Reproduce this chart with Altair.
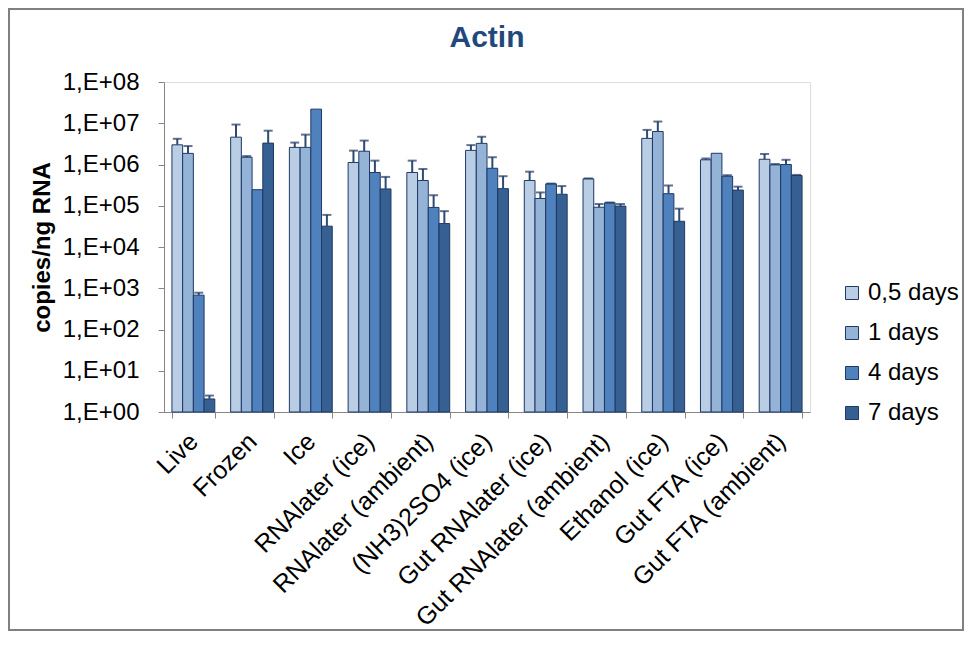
import altair as alt
import pandas as pd

categories = ["Live", "Frozen", "Ice", "RNAlater (ice)", "RNAlater (ambient)",
              "(NH3)2SO4 (ice)", "Gut RNAlater (ice)", "Gut RNAlater (ambient)",
              "Ethanol (ice)", "Gut FTA (ice)", "Gut FTA (ambient)"]
series = ["0,5 days", "1 days", "4 days", "7 days"]
colors = ["#B9CDE5", "#95B3D7", "#4F81BD", "#376092"]

mean_05 = [3.0e6, 4.6e6, 2.6e6, 1.12e6, 6.4e5, 2.2e6, 4.1e5, 4.5e5, 4.3e6, 1.3e6, 1.34e6]
top_05 = [4.2e6, 9.3e6, 3.4e6, 2.17e6, 1.24e6, 2.95e6, 6.7e5, 4.6e5, 6.9e6, 1.4e6, 1.8e6]
mean_1 = [1.86e6, 1.5e6, 2.6e6, 2.1e6, 4.1e5, 3.25e6, 1.5e5, 9.2e4, 6.3e6, 1.87e6, 9.8e5]
top_1 = [2.8e6, 1.6e6, 5.3e6, 3.8e6, 7.8e5, 4.7e6, 2.1e5, 1.1e5, 1.1e7, None, 1.03e6]
mean_4 = [680, 2.45e5, 2.2e7, 6.4e5, 9.1e4, 8.1e5, 3.4e5, 1.18e5, 1.96e5, 5.2e5, 1.0e6]
top_4 = [780, None, None, 1.24e6, 1.8e5, 1.5e6, 3.45e5, 1.2e5, 3.1e5, 5.5e5, 1.3e6]
mean_7 = [2.07, 3.3e6, 3.2e4, 2.56e5, 3.7e4, 2.6e5, 1.9e5, 9.8e4, 4.2e4, 2.4e5, 5.4e5]
top_7 = [2.5, 6.6e6, 6.0e4, 5.0e5, 7.4e4, 5.2e5, 3.0e5, 1.1e5, 8.5e4, 2.9e5, 5.6e5]

y_ticks = [1, 10, 100, 1e3, 1e4, 1e5, 1e6, 1e7, 1e8]

means = [mean_05, mean_1, mean_4, mean_7]
tops = [top_05, top_1, top_4, top_7]
rows = []
for s, mv, tv in zip(series, means, tops):
    for c, m, t in zip(categories, mv, tv):
        rows.append({"category": c, "series": s, "value": m, "top": t})
df = pd.DataFrame(rows)
err_df = df.dropna(subset=["top"])

FONT = "Liberation Sans"
NAVY = "#1F3864"

x_enc = alt.X("category:N", sort=categories,
              scale=alt.Scale(paddingInner=0.27, paddingOuter=0.135),
              axis=alt.Axis(title=None, labelAngle=-45, labelAlign="right",
                            labelBaseline="middle", labelFontSize=25, labelFont=FONT,
                            labelColor="black", labelPadding=19, tickBand="extent",
                            tickSize=6, tickColor="#868686", domainColor="#868686",
                            labelLimit=400))
xo_enc = alt.XOffset("series:N", sort=series,
                     scale=alt.Scale(paddingInner=0, paddingOuter=0))
y_scale = alt.Scale(type="log", domain=[1, 1e8])

bars = alt.Chart(df).mark_bar(stroke=NAVY, strokeWidth=1).encode(
    x=x_enc,
    xOffset=xo_enc,
    y=alt.Y("value:Q", scale=y_scale,
            axis=alt.Axis(values=y_ticks, title="copies/ng RNA",
                          labelExpr="'1,E+0' + format(log(datum.value)/LN10, '.0f')",
                          labelFontSize=24, labelFont=FONT, labelColor="black",
                          labelPadding=19, tickSize=6, tickColor="#868686",
                          domainColor="#868686", grid=False,
                          titleFontSize=24, titleFont=FONT, titleFontWeight="bold",
                          titleColor="black", titlePadding=8)),
    y2=alt.datum(1),
    color=alt.Color("series:N", sort=series,
                    scale=alt.Scale(domain=series, range=colors),
                    legend=alt.Legend(title=None, orient="none", legendX=676, legendY=199,
                                      labelFontSize=24, labelFont=FONT, labelColor="black",
                                      symbolType="square", symbolSize=169,
                                      symbolStrokeColor=NAVY, symbolStrokeWidth=1,
                                      rowPadding=16, labelOffset=4)),
)

err_rule = alt.Chart(err_df).mark_rule(color="#2E4A72", strokeWidth=2).encode(
    x=alt.X("category:N", sort=categories), xOffset=xo_enc,
    y=alt.Y("value:Q", scale=y_scale), y2="top:Q",
)
err_cap = alt.Chart(err_df).mark_tick(color=NAVY, thickness=2, size=9).encode(
    x=alt.X("category:N", sort=categories), xOffset=xo_enc,
    y=alt.Y("top:Q", scale=y_scale),
)

frame = alt.Chart(pd.DataFrame({"a": [0]})).mark_rect(
    filled=False, stroke="#808080", strokeWidth=2
).encode(x=alt.value(-155), x2=alt.value(646 + 153),
         y=alt.value(-73), y2=alt.value(330 + 218))

chart = alt.layer(bars, err_rule, err_cap, frame).properties(
    width=646, height=330,
    padding={"left": 156, "top": 74, "right": 154, "bottom": 219},
    autosize=alt.AutoSizeParams(type="none"),
    title=alt.TitleParams("Actin", fontSize=30, fontWeight="bold", color="#1F497D",
                          font=FONT, offset=0, dy=45, anchor="middle"),
).configure_view(stroke=None).configure(background="white")

chart.save("out.html", embed_options={"renderer": "svg", "actions": False})
